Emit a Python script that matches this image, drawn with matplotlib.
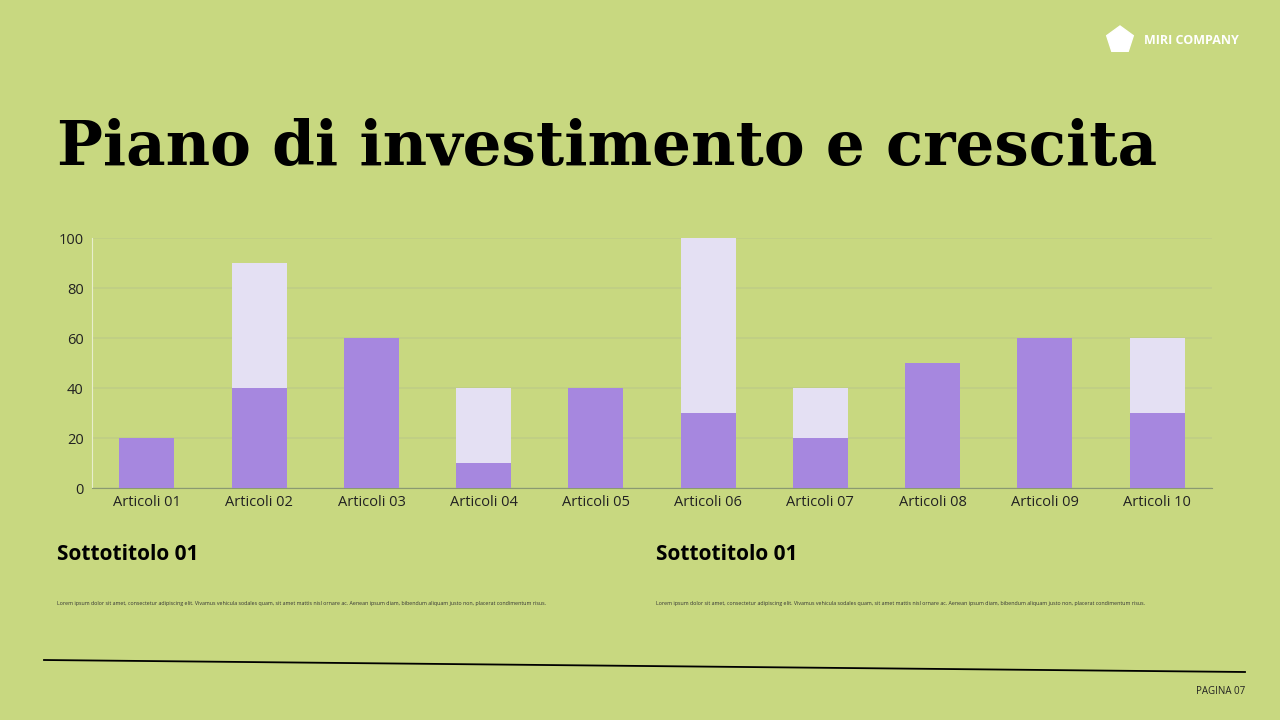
import matplotlib
matplotlib.use("Agg")
import matplotlib.pyplot as plt
from matplotlib.lines import Line2D
from matplotlib.patches import RegularPolygon

categories = ["Articoli 01","Articoli 02","Articoli 03","Articoli 04","Articoli 05",
              "Articoli 06","Articoli 07","Articoli 08","Articoli 09","Articoli 10"]
base_values = [20, 40, 60, 10, 40, 30, 20, 50, 60, 30]
extra_values = [0, 50, 0, 30, 0, 70, 20, 0, 0, 30]
yticks = [0, 20, 40, 60, 80, 100]

BG = "#C8D880"
DARK = "#A687DF"
LIGHT = "#E4E0F3"

plt.rcParams['font.family'] = ['Open Sans', 'DejaVu Sans']
fig = plt.figure(figsize=(12.8, 7.2), dpi=100, facecolor=BG)

ax = fig.add_axes([92/1280, 1-488/720, 1120/1280, 250/720], facecolor=BG)
x = range(len(categories))
ax.bar(x, base_values, width=0.49, color=DARK, zorder=3)
ax.bar(x, extra_values, bottom=base_values, width=0.49, color=LIGHT, zorder=3)
ax.set_xlim(-0.49, 9.49)
ax.set_ylim(0, 100)
ax.set_yticks(yticks)
ax.set_xticks(list(x))
ax.set_xticklabels(categories, fontsize=10.5, color="#222222")
ax.tick_params(axis='y', labelsize=10.5, colors="#222222", length=0, pad=6)
ax.tick_params(axis='x', length=0, pad=5)
ax.grid(axis='y', color="#BFCE86", linewidth=1.2, zorder=0)
for s in ["top", "right"]:
    ax.spines[s].set_visible(False)
ax.spines["left"].set_color("#E8EECC")
ax.spines["bottom"].set_color("#8A9A70")

fig.text(57/1280, 1-148/720, "Piano di investimento e crescita", fontsize=44,
         fontweight="bold", family="DejaVu Serif", va="center", ha="left", color="black")

# logo
fig.add_artist(RegularPolygon((11.2, 7.2-0.40), 5, radius=0.14, color="white",
                              transform=fig.dpi_scale_trans))
fig.text(1144/1280, 1-40/720, "MIRI COMPANY", fontsize=9, fontweight="bold",
         color="white", va="center", ha="left")

lorem = ("Lorem ipsum dolor sit amet, consectetur adipiscing elit. Vivamus vehicula sodales quam, "
         "sit amet mattis nisl ornare ac. Aenean ipsum diam, bibendum aliquam justo non, placerat condimentum risus.")
for xp in (57, 656):
    fig.text(xp/1280, 1-555/720, "Sottotitolo 01", fontsize=15, fontweight="bold",
             color="black", va="center", ha="left")
    fig.text(xp/1280, 1-604/720, lorem, fontsize=3.75, color="#333333", va="center", ha="left")

fig.add_artist(Line2D([44/1280, 1245/1280], [1-660/720, 1-672/720], color="black",
                      linewidth=1.3, transform=fig.transFigure))
fig.text(1245/1280, 1-691/720, "PAGINA 07", fontsize=7, color="#222222", ha="right", va="center")

fig.savefig("out.png", dpi=100, facecolor=BG)
